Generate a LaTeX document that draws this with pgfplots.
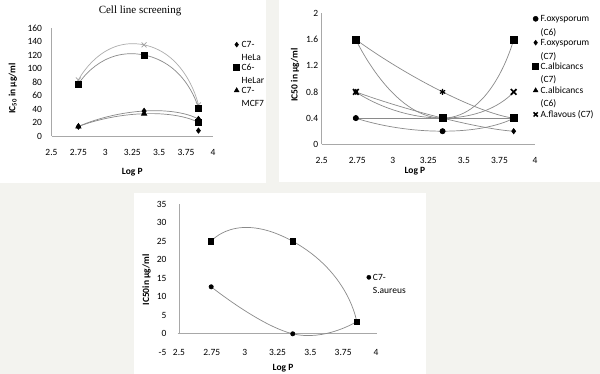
\documentclass[border=0pt]{standalone}
\usepackage{fontspec}
\setmainfont{Carlito}
\newfontfamily\titlefont{Liberation Serif}
\usepackage{pgfplots}
\pgfplotsset{compat=1.18}
\definecolor{bg}{HTML}{F3F3EF}
\definecolor{lc}{HTML}{8A8A8A}
\definecolor{ac}{HTML}{A8A8A8}
\def\legd{15.5pt}
\pgfplotsset{
  panel/.style={scale only axis, anchor=south west,
    axis x line*=bottom, axis y line*=left,
    axis line style={ac, line width=0.6pt, -},
    tick style={draw=none},
    xmin=2.5, xmax=4, xtick={2.5,2.75,3,3.25,3.5,3.75,4},
    tick label style={font=\fontsize{9.5}{11}\selectfont},
    /pgf/number format/assume math mode=true,
    label style={font=\bfseries\fontsize{9.5}{11}\selectfont},
    legend style={draw=none, fill=none, inner sep=0pt, outer sep=0pt,
      font=\fontsize{9.5}{13.3}\selectfont, cells={anchor=base west},
      column sep=0pt, row sep=0pt, nodes={inner xsep=2pt, inner ysep=0pt}},
    legend image code/.code={\path (0pt,-\legd) (0pt,7pt); \draw[##1] plot coordinates {(0pt,3pt)};},
    clip=false},
  cl/.style={lc, line width=0.7pt, smooth, tension=1.15, mark options={draw=black, fill=black, solid}},
  lm/.style={only marks, mark options={draw=black, fill=black}},
}
\begin{document}
\begin{tikzpicture}
\fill[bg] (0pt,0pt) rectangle (600pt,374pt);
\fill[white] (0pt,191pt) rectangle (266pt,374pt);
\fill[white] (279pt,192pt) rectangle (600pt,374pt);
\fill[white] (134pt,0pt) rectangle (426pt,181pt);
\node[font=\titlefont\fontsize{11}{13}\selectfont] at (140pt,363pt) {Cell line screening};

% ---------- Chart 1 ----------
\def\legd{15.5pt}
\begin{axis}[panel, at={(51.5pt,238pt)}, width=161.5pt, height=108pt,
  ymin=0, ymax=160, ytick={0,20,40,60,80,100,120,140,160},
  yticklabel style={xshift=-6pt}, xticklabel style={yshift=-9.5pt},
  xlabel={Log P}, xlabel style={at={(axis description cs:0.5,-0.333)}, anchor=center},
  ylabel={IC\textsubscript{50} in µg/ml}, ylabel style={at={(axis description cs:-0.240,0.44)}, anchor=center},
  legend style={at={(axis description cs:1.128,0.885)}, anchor=north west}]
\addplot[cl, color=lc!70!white, tension=1.3, mark=x, mark size=3.5pt, mark options={draw=lc!80!white}, forget plot] coordinates {(2.75,83) (3.36,135) (3.865,46)};
\addplot[cl, tension=1.3, mark=square*, mark size=3pt, forget plot] coordinates {(2.75,77) (3.36,120) (3.865,41)};
\addplot[cl, mark=diamond*, mark size=2.8pt, forget plot] coordinates {(2.75,14) (3.36,37) (3.865,25)};
\addplot[cl, mark=triangle*, mark size=3pt, forget plot] coordinates {(2.75,14) (3.36,33) (3.865,20)};
\addplot[lm, mark=square*, mark size=3pt, forget plot] coordinates {(3.865,20)};
\addplot[lm, mark=diamond*, mark size=2.8pt, forget plot] coordinates {(3.865,8)};
\addlegendimage{lm, mark=diamond*, mark size=2.5pt}
\addlegendentry{\vtop{\hbox{C7-}\hbox{HeLa}}}
\addlegendimage{lm, mark=square*, mark size=3pt}
\addlegendentry{\vtop{\hbox{C6-}\hbox{HeLar}}}
\addlegendimage{lm, mark=triangle*, mark size=2.8pt}
\addlegendentry{\vtop{\hbox{C7-}\hbox{MCF7}}}
\end{axis}

% ---------- Chart 2 ----------
\def\legd{16.5pt}
\begin{axis}[panel, at={(321.7pt,229.7pt)}, width=213.3pt, height=131pt,
  ymin=0, ymax=2, ytick={0,0.4,0.8,1.2,1.6,2},
  xticklabel style={yshift=-9.5pt},
  xlabel={Log P}, xlabel style={at={(axis description cs:0.437,-0.204)}, anchor=center},
  ylabel={IC50 in µg/ml}, ylabel style={at={(axis description cs:-0.125,0.529)}, anchor=center},
  legend style={at={(axis description cs:0.989,0.99)}, anchor=north west}]
\addplot[cl, mark=*, mark size=2.6pt, forget plot] coordinates {(2.74,0.4) (3.35,0.2) (3.85,0.4)};
\addplot[cl, mark=diamond*, mark size=2.6pt, forget plot] coordinates {(2.74,0.8) (3.35,0.4) (3.85,0.2)};
\addplot[cl, mark=triangle*, mark size=2.5pt, forget plot] coordinates {(2.74,0.4) (3.35,0.4) (3.85,0.4)};
\addplot[cl, mark=square*, mark size=3.6pt, mark indices={1,3}, forget plot] coordinates {(2.74,1.6) (3.35,0.8) (3.85,0.4)};
\addplot[lm, mark=asterisk, mark size=3pt, mark options={draw=black, line width=1.2pt}, forget plot] coordinates {(3.35,0.8)};
\addplot[cl, mark=square*, mark size=3.6pt, forget plot] coordinates {(2.74,1.6) (3.35,0.4) (3.85,1.6)};
\addplot[cl, mark=x, mark size=4pt, mark options={draw=black, line width=1.7pt}, forget plot] coordinates {(2.74,0.8) (3.35,0.4) (3.85,0.8)};
\addlegendimage{lm, mark=*, mark size=2.6pt}
\addlegendentry{\vtop{\hbox{F.oxysporum}\hbox{(C6)}}}
\addlegendimage{lm, mark=diamond*, mark size=2.5pt}
\addlegendentry{\vtop{\hbox{F.oxysporum}\hbox{(C7)}}}
\addlegendimage{lm, mark=square*, mark size=3pt}
\addlegendentry{\vtop{\hbox{C.albicancs}\hbox{(C7)}}}
\addlegendimage{lm, mark=triangle*, mark size=2.8pt}
\addlegendentry{\vtop{\hbox{C.albicancs}\hbox{(C6)}}}
\addlegendimage{lm, mark=x, mark size=3pt, mark options={draw=black, line width=1.5pt}}
\addlegendentry{A.flavous (C7)}
\end{axis}

% ---------- Chart 3 ----------
\def\legd{15.5pt}
\begin{axis}[panel, at={(179pt,21.7pt)}, width=197pt, height=148pt,
  axis line style={draw=none},
  ymin=-5, ymax=35, ytick={-5,0,5,10,15,20,25,30,35},
  yticklabel style={xshift=-9pt}, xticklabel style={anchor=center},
  xlabel={Log P}, xlabel style={at={(axis description cs:0.528,-0.106)}, anchor=center},
  ylabel={IC50in µg/ml}, ylabel style={at={(axis description cs:-0.165,0.489)}, anchor=center},
  legend style={at={(axis description cs:0.953,0.535)}, anchor=north west}]
\draw[ac, line width=0.6pt] (axis cs:2.49,0) -- (axis cs:4.01,0);
\draw[ac, line width=0.6pt] (axis cs:2.5,0) -- (axis cs:2.5,35);
\addplot[cl, tension=0.8, mark=*, mark size=2.1pt, forget plot] coordinates {(2.745,12.7) (3.366,0) (3.853,3.3)};
\addplot[cl, tension=1.4, mark=square*, mark size=2.6pt, forget plot] coordinates {(2.745,25) (3.366,25) (3.853,3.3)};
\addlegendimage{lm, mark=*, mark size=2.1pt}
\addlegendentry{\vtop{\hbox{C7-}\hbox{S.aureus}}}
\end{axis}
\pgfresetboundingbox
\useasboundingbox (0pt,0pt) rectangle (600pt,374pt);
\end{tikzpicture}
\end{document}
